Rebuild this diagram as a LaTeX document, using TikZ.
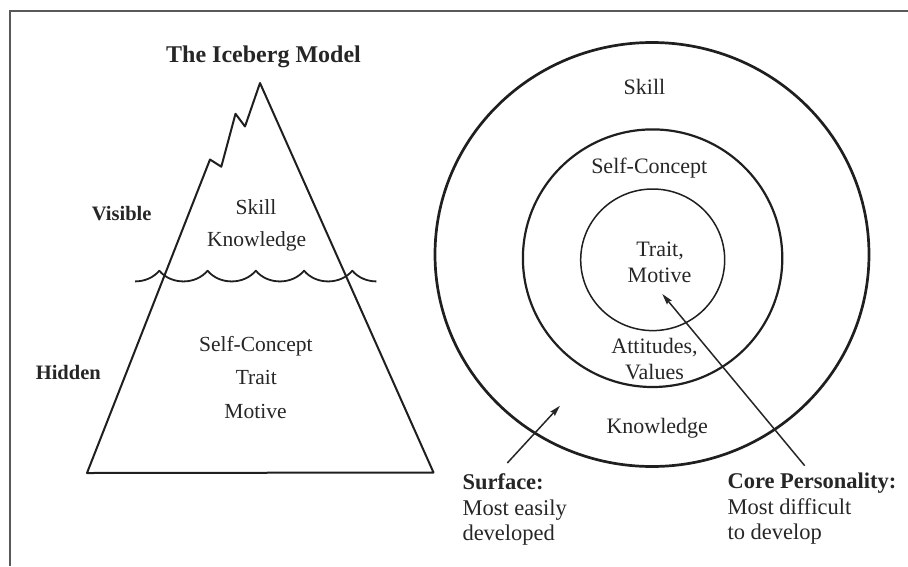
\documentclass[tikz,border=0pt]{standalone}
\usepackage{fontspec}
\setmainfont{Liberation Serif}
\usetikzlibrary{arrows.meta}
\begin{document}
\begin{tikzpicture}[x=1pt,y=-1pt,
  ink/.style={draw=black!88, line width=2pt, line join=round},
  frame/.style={draw=black!65, line width=2pt},
  txt/.style={font=\fontsize{21.5}{25}\selectfont, text=black!85, inner sep=0pt, anchor=base},
  ctxt/.style={txt, font=\fontsize{22}{25}\selectfont},
  bold/.style={font=\fontsize{20.5}{25}\selectfont\bfseries, text=black!85, inner sep=0pt, anchor=base},
  note/.style={txt, font=\fontsize{22.5}{25}\selectfont, anchor=base west},
  boldnote/.style={bold, font=\fontsize{22.5}{25}\selectfont\bfseries, anchor=base west},
  pointer/.style={draw=black!85, line width=1.5pt, -{Stealth[length=11pt,width=6pt,inset=1.5pt]}}
]
\useasboundingbox (0,0) rectangle (908,566);

% page frame (top and left rules)
\draw[frame] (10,566) -- (10,10.5) -- (908,10.5);

% ---------- left: the iceberg ----------
\node[bold, font=\fontsize{24}{28}\selectfont\bfseries] (title) at (263.5,62) {The Iceberg Model};

\draw[ink] (87,473) -- (210,159.5) -- (221.3,166.7) -- (235.5,113.8)
  -- (245,126.5) -- (260,83) -- (433.5,472.5) -- cycle;

% waterline: scallops between cusps
\draw[ink, line width=1.8pt]
  (135.2,281.4) .. controls (144.2,281.4) and (153.3,277.85) .. (159.3,270.7)
  .. controls (171.3,285) and (195.55,285) .. (207.55,270.7)
  .. controls (219.55,285) and (243.8,285) .. (255.8,270.7)
  .. controls (267.8,285) and (292.05,285) .. (304.05,270.7)
  .. controls (316.05,285) and (340.3,285) .. (352.3,270.7)
  .. controls (358.3,277.85) and (367.4,281.4) .. (376.4,281.4);

\node[bold] (visible) at (121.7,220) {Visible};
\node[bold] (hidden) at (68.3,379.7) {Hidden};

\node[txt] (iskill) at (256,214) {Skill};
\node[txt] (iknow) at (256.7,246.5) {Knowledge};
\node[txt] (iself) at (255.8,351.3) {Self-Concept};
\node[txt] (itrait) at (256.3,384.7) {Trait};
\node[txt] (imotive) at (255.5,418) {Motive};

% ---------- right: concentric layers ----------
\draw[ink, line width=2.7pt] (652,254.5) ellipse [x radius=217, y radius=212];
\draw[ink, line width=2.2pt] (652.6,258.2) ellipse [x radius=129.7, y radius=128.8];
\draw[ink, line width=1.5pt] (652.7,259.8) ellipse [x radius=72, y radius=70.8];

\node[ctxt] (cskill) at (644.5,94.3) {Skill};
\node[ctxt] (cself) at (649.3,173.3) {Self-Concept};
\node[ctxt] (ctrait) at (660,256) {Trait,};
\node[ctxt] (cmotive) at (659.5,282.7) {Motive};
\node[ctxt] (catt) at (654.5,353) {Attitudes,};
\node[ctxt] (cval) at (654.5,379.7) {Values};
\node[ctxt] (cknow) at (657.3,433) {Knowledge};

% legend notes
\node[boldnote] (surf) at (462.3,489) {Surface:};
\node[note] (surf2) at (462.3,515.7) {Most easily};
\node[note] (surf3) at (462.3,540.7) {developed};

\node[boldnote] (core) at (727.3,488) {Core Personality:};
\node[note] (core2) at (727.3,514) {Most difficult};
\node[note] (core3) at (727.3,539.7) {to develop};

% pointers
\coordinate (surfTail) at (507.3,463);
\coordinate (surfTip) at (560,405.7);
\coordinate (coreTail) at (804.7,465.7);
\coordinate (coreTip) at (662.3,294);
\draw[pointer] (surfTail) -- (surfTip);
\draw[pointer] (coreTail) -- (coreTip);
\end{tikzpicture}
\end{document}
